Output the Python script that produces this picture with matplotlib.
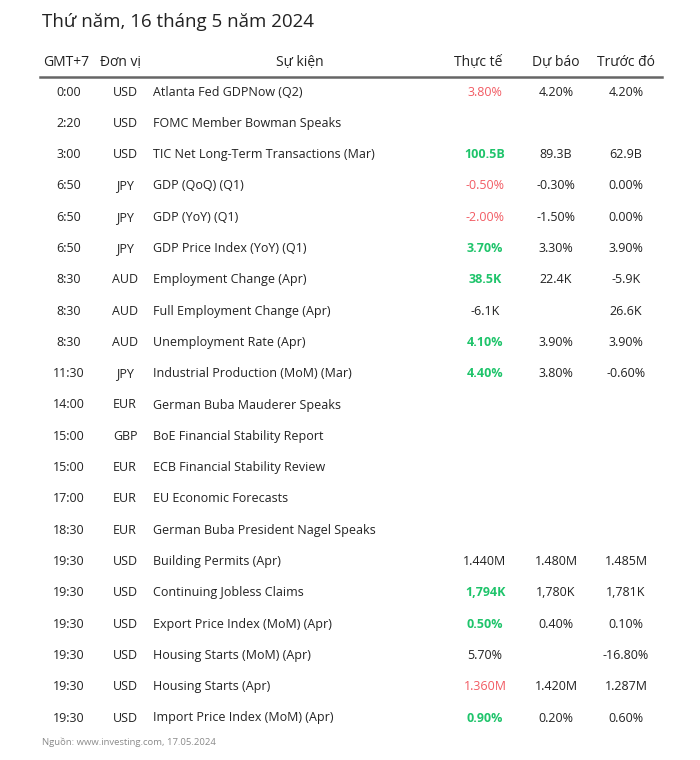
import matplotlib
matplotlib.use('Agg')
import matplotlib.pyplot as plt

plt.rcParams['font.family'] = ['Open Sans', 'DejaVu Sans']

title = 'Thứ năm, 16 tháng 5 năm 2024'
headers = ['GMT+7', 'Đơn vị', 'Sự kiện', 'Thực tế', 'Dự báo', 'Trước đó']

times = ['0:00', '2:20', '3:00', '6:50', '6:50', '6:50', '8:30', '8:30', '8:30', '11:30',
         '14:00', '15:00', '15:00', '17:00', '18:30', '19:30', '19:30', '19:30', '19:30',
         '19:30', '19:30']
units = ['USD', 'USD', 'USD', 'JPY', 'JPY', 'JPY', 'AUD', 'AUD', 'AUD', 'JPY',
         'EUR', 'GBP', 'EUR', 'EUR', 'EUR', 'USD', 'USD', 'USD', 'USD', 'USD', 'USD']
events = ['Atlanta Fed GDPNow (Q2)', 'FOMC Member Bowman Speaks',
          'TIC Net Long-Term Transactions (Mar)', 'GDP (QoQ) (Q1)', 'GDP (YoY) (Q1)',
          'GDP Price Index (YoY) (Q1)', 'Employment Change (Apr)',
          'Full Employment Change (Apr)', 'Unemployment Rate (Apr)',
          'Industrial Production (MoM) (Mar)', 'German Buba Mauderer Speaks',
          'BoE Financial Stability Report', 'ECB Financial Stability Review',
          'EU Economic Forecasts', 'German Buba President Nagel Speaks',
          'Building Permits (Apr)', 'Continuing Jobless Claims',
          'Export Price Index (MoM) (Apr)', 'Housing Starts (MoM) (Apr)',
          'Housing Starts (Apr)', 'Import Price Index (MoM) (Apr)']
actual = ['3.80%', '', '100.5B', '-0.50%', '-2.00%', '3.70%', '38.5K', '-6.1K', '4.10%',
          '4.40%', '', '', '', '', '', '1.440M', '1,794K', '0.50%', '5.70%', '1.360M', '0.90%']
forecast = ['4.20%', '', '89.3B', '-0.30%', '-1.50%', '3.30%', '22.4K', '', '3.90%',
            '3.80%', '', '', '', '', '', '1.480M', '1,780K', '0.40%', '', '1.420M', '0.20%']
previous = ['4.20%', '', '62.9B', '0.00%', '0.00%', '3.90%', '-5.9K', '26.6K', '3.90%',
            '-0.60%', '', '', '', '', '', '1.485M', '1,781K', '0.10%', '-16.80%', '1.287M',
            '0.60%']
# 'g' = better than forecast, 'r' = worse, '' = neutral
signal = ['r', '', 'g', 'r', 'r', 'g', 'g', '', 'g', 'g', '', '', '', '', '', '', 'g', 'g',
          '', 'r', 'g']
source = 'Nguồn: www.investing.com, 17.05.2024'

DARK = '#222222'
RED = '#f25b63'
GREEN = '#1fc46b'
colors = {'g': GREEN, 'r': RED, '': DARK}
FS = 9

fig = plt.figure(figsize=(7, 7.6), dpi=100)
ax = fig.add_axes([0, 0, 1, 1])
ax.set_xlim(0, 700)
ax.set_ylim(760, 0)
ax.axis('off')

ax.text(42, 22, title, fontsize=13.5, color=DARK, va='center', ha='left')

hy = 62
ax.text(43, hy, headers[0], fontsize=10, color=DARK, va='center', ha='left')
ax.text(100, hy, headers[1], fontsize=10, color=DARK, va='center', ha='left')
ax.text(300, hy, headers[2], fontsize=10, color=DARK, va='center', ha='center')
ax.text(478, hy, headers[3], fontsize=10, color=DARK, va='center', ha='center')
ax.text(556, hy, headers[4], fontsize=10, color=DARK, va='center', ha='center')
ax.text(626, hy, headers[5], fontsize=10, color=DARK, va='center', ha='center')
ax.plot([40, 662], [77, 77], color='#666666', lw=1.8)

y0, dy = 92, 31.3
for i in range(len(events)):
    y = y0 + i * dy
    ax.text(69, y, times[i], fontsize=FS, color=DARK, va='center', ha='center')
    ax.text(125, y, units[i], fontsize=FS, color=DARK, va='center', ha='center')
    ax.text(153, y, events[i], fontsize=FS, color=DARK, va='center', ha='left')
    s = signal[i]
    ax.text(485, y, actual[i], fontsize=FS, color=colors[s], va='center', ha='center',
            fontweight='bold' if s == 'g' else 'normal')
    ax.text(556, y, forecast[i], fontsize=FS, color=DARK, va='center', ha='center')
    ax.text(626, y, previous[i], fontsize=FS, color=DARK, va='center', ha='center')

ax.text(42, 742, source, fontsize=6.8, color='#8a8a8a', va='center', ha='left')

fig.savefig('out.png', dpi=100, facecolor='white')
